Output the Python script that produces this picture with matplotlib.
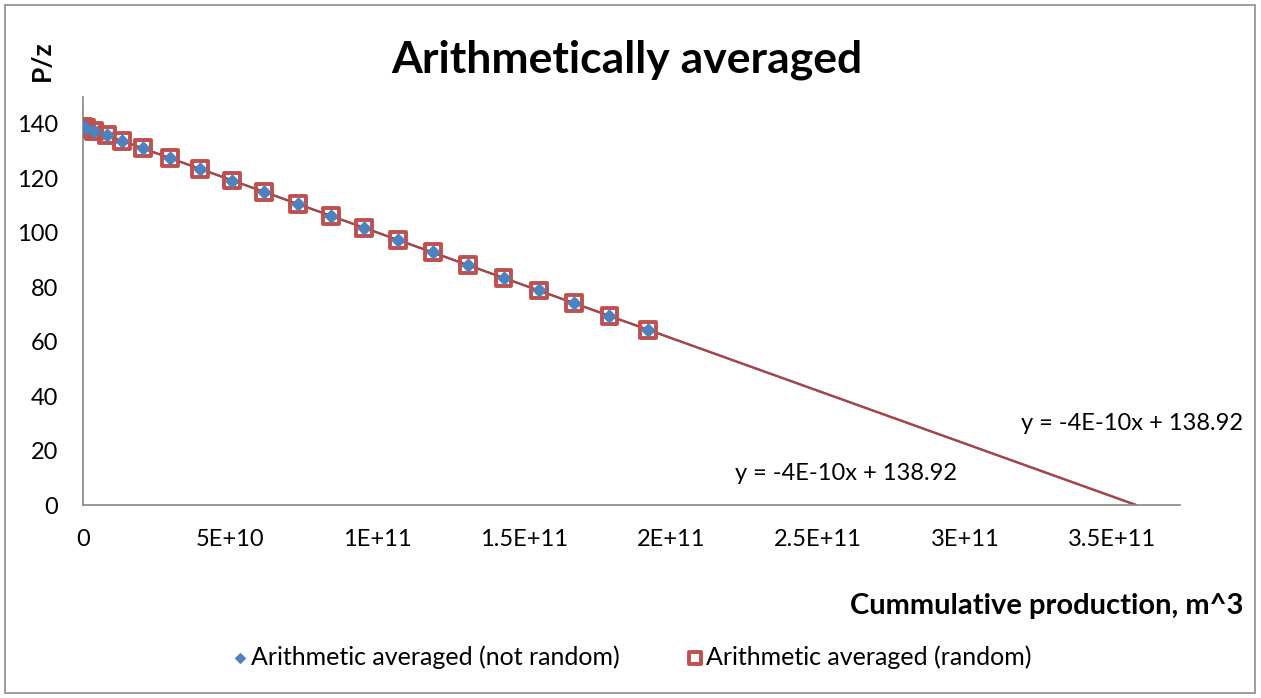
import numpy as np
import matplotlib
matplotlib.use("Agg")
import matplotlib.pyplot as plt
from matplotlib.patches import Rectangle

plt.rcParams['font.family'] = ['Lato', 'DejaVu Sans']

# cumulative production (m^3) and P/z
cum_prod = [0, 1.0e9, 3.7e9, 8.2e9, 1.33e10, 2.04e10, 2.96e10, 3.98e10,
            5.07e10, 6.15e10, 7.31e10, 8.43e10, 9.56e10, 1.07e11, 1.19e11,
            1.31e11, 1.43e11, 1.55e11, 1.67e11, 1.79e11, 1.92e11]
pz_not_random = [138.9, 138.5, 137.5, 135.8, 133.8, 131.0, 127.4, 123.5,
                 119.2, 115.0, 110.6, 106.2, 101.8, 97.4, 92.8,
                 88.1, 83.4, 78.8, 74.1, 69.5, 64.4]
pz_random = pz_not_random

series_names = ["Arithmetic averaged (not random)", "Arithmetic averaged (random)"]
eq_text = "y = -4E-10x + 138.92"
x_ticks = [0, 5e10, 1e11, 1.5e11, 2e11, 2.5e11, 3e11, 3.5e11]
x_tick_labels = ["0", "5E+10", "1E+11", "1.5E+11", "2E+11", "2.5E+11", "3E+11", "3.5E+11"]
y_ticks = [0, 20, 40, 60, 80, 100, 120, 140]

fig = plt.figure(figsize=(12.61, 6.98), dpi=100)
fig.patches.append(Rectangle((0.004, 0.007), 0.991, 0.986, transform=fig.transFigure,
                             fill=False, edgecolor="#8c8c8c", linewidth=1.2))
ax = fig.add_axes([0.0658, 0.2765, 0.870, 0.585])

x = np.array(cum_prod)
# linear trendlines, extended forward to P/z = 0
for vals, col in [(pz_not_random, "#4F81BD"), (pz_random, "#B0413E")]:
    m, c = np.polyfit(x, np.array(vals), 1)
    xe = np.array([0, -c / m])
    ax.plot(xe, m * xe + c, color=col, linewidth=1.6, zorder=2)

ax.scatter(cum_prod, pz_random, marker="s", s=130, facecolor="none",
           edgecolor="#C0504D", linewidth=2.8, zorder=3, label=series_names[1])
ax.scatter(cum_prod, pz_not_random, marker="D", s=42, color="#4F81BD",
           zorder=4, label=series_names[0])

ax.set_xlim(0, 3.73e11)
ax.set_ylim(0, 150)
ax.set_xticks(x_ticks)
ax.set_xticklabels(x_tick_labels)
ax.set_yticks(y_ticks)
ax.tick_params(length=0, labelsize=17)
ax.tick_params(axis="y", pad=18)
ax.tick_params(axis="x", pad=17)
for s in ["top", "right"]:
    ax.spines[s].set_visible(False)
for s in ["left", "bottom"]:
    ax.spines[s].set_color("#868686")
    ax.spines[s].set_linewidth(1.2)

fig.text(0.497, 0.915, "Arithmetically averaged", ha="center", va="center",
         fontsize=32, fontweight="bold")
fig.text(0.033, 0.913, "P/z", rotation=90, ha="center", va="center",
         fontsize=19, fontweight="bold")
fig.text(0.986, 0.132, "Cummulative production, m^3", ha="right", va="center",
         fontsize=21, fontweight="bold")
fig.text(0.986, 0.393, eq_text, ha="right", va="center", fontsize=17)
fig.text(0.583, 0.322, eq_text, ha="left", va="center", fontsize=17)

h, l = ax.get_legend_handles_labels()
fig.legend([h[1], h[0]], [l[1], l[0]], loc="center", bbox_to_anchor=(0.5, 0.059),
           ncol=2, frameon=False, fontsize=18, handletextpad=0.05,
           columnspacing=2.6, handlelength=0.8, markerscale=0.75)

fig.savefig("out.png", dpi=100)
